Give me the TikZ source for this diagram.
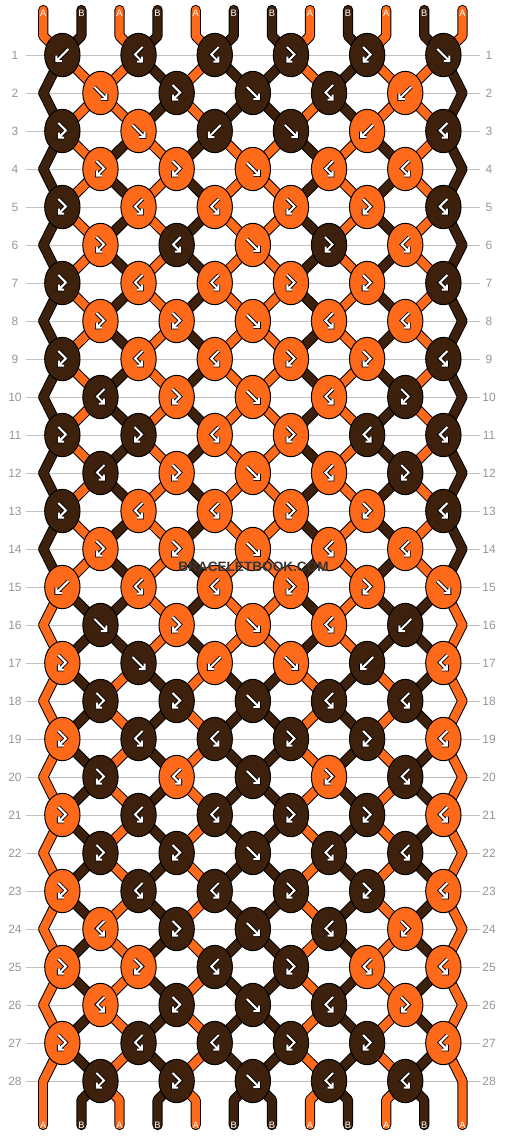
\documentclass[tikz,border=0pt]{standalone}
\usepackage{fontspec}
\setmainfont{Liberation Sans}
\usetikzlibrary{shapes.geometric}

\definecolor{colA}{RGB}{255,106,26}
\definecolor{colB}{RGB}{62,33,12}
\definecolor{rulegray}{RGB}{192,192,192}
\definecolor{numgray}{RGB}{150,150,150}
\definecolor{wmgray}{RGB}{55,55,55}

\pgfdeclarelayer{strings}
\pgfsetlayers{strings,main}

% knot types per row: 1 = f, 2 = b, 3 = fb, 4 = bf (rows 15-28 repeat rows 1-14)
\expandafter\def\csname pat1\endcsname{2,4,4,3,3,1}
\expandafter\def\csname pat2\endcsname{1,3,1,4,2}
\expandafter\def\csname pat3\endcsname{3,1,2,1,2,4}
\expandafter\def\csname pat4\endcsname{3,3,1,4,4}
\expandafter\def\csname pat5\endcsname{3,4,4,3,3,4}
\expandafter\def\csname pat6\endcsname{3,4,1,3,4}
\expandafter\def\csname pat7\endcsname{3,4,4,3,3,4}
\expandafter\def\csname pat8\endcsname{3,3,1,4,4}
\expandafter\def\csname pat9\endcsname{3,4,4,3,3,4}
\expandafter\def\csname pat10\endcsname{4,3,1,4,3}
\expandafter\def\csname pat11\endcsname{3,3,4,3,4,4}
\expandafter\def\csname pat12\endcsname{4,3,1,4,3}
\expandafter\def\csname pat13\endcsname{3,4,4,3,3,4}
\expandafter\def\csname pat14\endcsname{3,3,1,4,4}
\def\threadsinit{A,B,A,B,A,B,B,A,B,A,B,A}

% one pass over all string segments (outline first, then colour)
\newcommand\stringpass[1]{%
  \foreach \p in {1,...,12} {
    \edef\tc{\csname c0-\p\endcsname}
    \pgfmathtruncatemacro\kk{(\p+1)/2}
    \draw[#1] (s\p) -- (sb\p) -- (k1-\kk.center);
  }
  \foreach \rw in {1,...,27} {
    \pgfmathtruncatemacro\nx{\rw+1}
    \pgfmathtruncatemacro\oa{mod(\rw,2)}
    \pgfmathtruncatemacro\ob{mod(\nx,2)}
    \foreach \p in {1,...,12} {
      \edef\tc{\csname c\rw-\p\endcsname}
      \pgfmathtruncatemacro\ka{(\p+\oa)/2}
      \pgfmathtruncatemacro\kb{(\p+\ob)/2}
      \draw[#1] (k\rw-\ka.center) -- (k\nx-\kb.center);
    }
  }
  \foreach \p in {1,...,12} {
    \edef\tc{\csname c28-\p\endcsname}
    \pgfmathtruncatemacro\kk{\p/2}
    \draw[#1] (k28-\kk.center) -- (eb\p) -- (e\p);
  }
}

\begin{document}
\begin{tikzpicture}[x=0.75pt,y=0.75pt,yscale=-1,
  knot/.style={ellipse, draw=black, line width=0.75pt, minimum width=26.5pt, minimum height=32.5pt, inner sep=0pt},
  icon/.style={draw=white, line width=1.5pt, line join=miter, preaction={draw=black, line width=2.9pt}},
  strout/.style={draw=black, line width=7.7pt, line cap=round, line join=round},
  strin/.style={line width=6.2pt, line cap=round, line join=round},
  rowline/.style={draw=rulegray, line width=0.75pt},
  rownum/.style={text=numgray, font=\fontsize{9}{9}\selectfont, inner sep=0pt},
  tablbl/.style={text=white, font=\fontsize{7}{7}\selectfont, inner sep=0pt},
  watermark/.style={text=wmgray, font=\bfseries\fontsize{10.2}{10}\selectfont, inner sep=0pt}]
\useasboundingbox (0,0) rectangle (506,1136);

%Threads at the start
\foreach \tc [count=\p] in \threadsinit {
  \expandafter\xdef\csname th\p\endcsname{\tc}
  \expandafter\xdef\csname c0-\p\endcsname{\tc}
  \pgfmathsetmacro\x{43.3+38.1*(\p-1)}
  \coordinate (s\p) at (\x,10);
  \coordinate (sb\p) at (\x,36);
  \coordinate (eb\p) at (\x,1100);
  \coordinate (e\p) at (\x,1125);
  \node[tablbl] (tl\p) at (\x,13) {\tc};
}

%Row lines and numbers
\begin{pgfonlayer}{strings}
\foreach \rw in {1,...,28} {
  \pgfmathsetmacro\y{55+38*(\rw-1)}
  \draw[rowline] (26,\y) -- (480,\y);
}
\end{pgfonlayer}
\foreach \rw in {1,...,28} {
  \pgfmathsetmacro\y{55+38*(\rw-1)}
  \node[rownum] (nl\rw) at (15,\y) {\rw};
  \node[rownum] (nr\rw) at (489,\y) {\rw};
}

%Knots
\foreach \rw in {1,...,28} {
  \pgfmathtruncatemacro\odd{mod(\rw,2)}
  \pgfmathtruncatemacro\m{mod(\rw-1,14)+1}
  \pgfmathsetmacro\y{55+38*(\rw-1)}
  \edef\types{\csname pat\m\endcsname}
  \ifnum\odd=0
    \coordinate (k\rw-0) at (43.3,\y);
    \coordinate (k\rw-6) at (462.4,\y);
  \fi
  \foreach \kt [count=\kn] in \types {
    \pgfmathtruncatemacro\pl{2*\kn-\odd}
    \pgfmathtruncatemacro\pr{\pl+1}
    \pgfmathsetmacro\x{43.3+38.1*(\pl-0.5)}
    \edef\thl{\csname th\pl\endcsname}
    \edef\thr{\csname th\pr\endcsname}
    \ifodd\kt \edef\kc{\thl}\else \edef\kc{\thr}\fi
    \node[knot, fill=col\kc] (k\rw-\kn) at (\x,\y) {};
    \ifnum\kt<3
      \expandafter\xdef\csname th\pl\endcsname{\thr}
      \expandafter\xdef\csname th\pr\endcsname{\thl}
    \fi
    \begin{scope}[shift={(\x,\y)}]
      \ifcase\kt\or
        \draw[icon] (-6,-6) -- (6,6) (0.5,6) -- (6,6) -- (6,0.5);
      \or
        \draw[icon] (6,-6) -- (-6,6) (-0.5,6) -- (-6,6) -- (-6,0.5);
      \or
        \draw[icon] (-4,-8) -- (3.5,-0.5) -- (-3.5,6.5) (1.5,6.5) -- (-3.5,6.5) -- (-3.5,1.5);
      \or
        \draw[icon] (4,-8) -- (-3.5,-0.5) -- (3.5,6.5) (-1.5,6.5) -- (3.5,6.5) -- (3.5,1.5);
      \fi
    \end{scope}
  }
  \foreach \p in {1,...,12} {
    \expandafter\xdef\csname c\rw-\p\endcsname{\csname th\p\endcsname}
  }
}

%Strings
\begin{pgfonlayer}{strings}
\stringpass{strout}
\stringpass{strin,draw=col\tc}
\end{pgfonlayer}

%Threads at the end
\foreach \p in {1,...,12} {
  \edef\tc{\csname c28-\p\endcsname}
  \pgfmathsetmacro\x{43.3+38.1*(\p-1)}
  \node[tablbl] (bl\p) at (\x,1125) {\tc};
}

% Text Node
\node[watermark] (wm) at (253.5,567) {BRACELETBOOK.COM};

\end{tikzpicture}
\end{document}
